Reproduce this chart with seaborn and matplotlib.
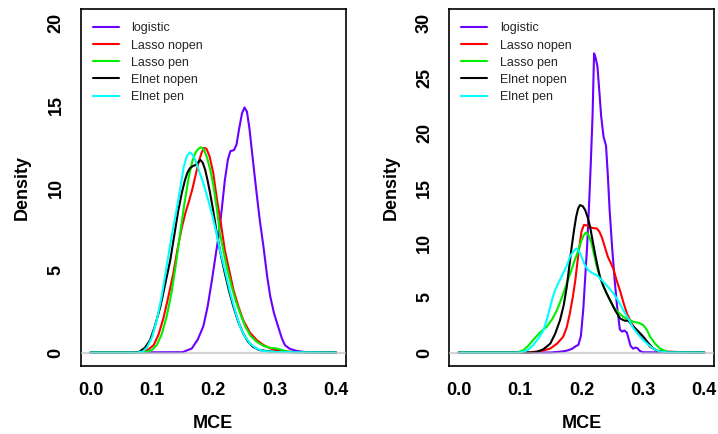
import numpy as np
import pandas as pd
import matplotlib
matplotlib.use("Agg")
import matplotlib.pyplot as plt
import seaborn as sns

# ---------------- data ----------------
methods = ["logistic", "Lasso nopen", "Lasso pen", "Elnet nopen", "Elnet pen"]
colors = ["#6A00FF", "#FF0000", "#00EE00", "#000000", "#00FFFF"]

# Left panel
L_logistic_x = [0.0, 0.150, 0.165, 0.175, 0.184, 0.191, 0.198, 0.204, 0.209, 0.214, 0.219, 0.224, 0.228, 0.234, 0.238, 0.242, 0.247, 0.251, 0.255, 0.259, 0.264, 0.270, 0.276, 0.282, 0.288, 0.293, 0.299, 0.306, 0.312, 0.317, 0.325, 0.336, 0.350, 0.4]
L_logistic_y = [0, 0.02, 0.24, 0.8, 1.6, 2.8, 4.4, 5.9, 7.1, 8.7, 10.45, 11.7, 12.2, 12.27, 12.6, 13.5, 14.5, 14.85, 14.6, 13.6, 11.9, 9.9, 8.0, 6.4, 4.6, 3.4, 2.4, 1.55, 0.85, 0.44, 0.22, 0.1, 0.02, 0]

L_lasso_nopen_x = [0.0, 0.075, 0.086, 0.095, 0.103, 0.111, 0.119, 0.127, 0.135, 0.142, 0.149, 0.155, 0.160, 0.166, 0.171, 0.176, 0.181, 0.185, 0.189, 0.194, 0.200, 0.206, 0.213, 0.219, 0.226, 0.233, 0.241, 0.249, 0.260, 0.271, 0.282, 0.293, 0.305, 0.320, 0.4]
L_lasso_nopen_y = [0, 0.0, 0.05, 0.2, 0.45, 1.1, 2.1, 3.4, 4.8, 6.3, 7.6, 8.5, 9.1, 9.9, 10.7, 11.5, 12.1, 12.4, 12.35, 11.9, 10.9, 9.3, 7.7, 6.2, 5.0, 3.8, 2.8, 1.95, 1.2, 0.75, 0.45, 0.25, 0.12, 0.04, 0]

L_lasso_pen_x = [0.0, 0.080, 0.092, 0.100, 0.108, 0.116, 0.124, 0.132, 0.139, 0.146, 0.153, 0.160, 0.166, 0.171, 0.176, 0.180, 0.185, 0.190, 0.195, 0.200, 0.206, 0.211, 0.217, 0.222, 0.230, 0.237, 0.244, 0.252, 0.261, 0.271, 0.282, 0.293, 0.300, 0.308, 0.318, 0.330, 0.4]
L_lasso_pen_y = [0, 0.0, 0.05, 0.15, 0.45, 1.1, 2.16, 3.6, 5.3, 7.2, 9.0, 10.6, 11.6, 12.1, 12.35, 12.44, 12.3, 11.8, 11.1, 10.2, 8.7, 7.2, 6.1, 5.2, 4.0, 3.1, 2.37, 1.6, 1.0, 0.65, 0.4, 0.28, 0.26, 0.2, 0.08, 0.02, 0]

L_elnet_nopen_x = [0.0, 0.070, 0.080, 0.089, 0.097, 0.105, 0.114, 0.122, 0.130, 0.137, 0.143, 0.149, 0.154, 0.158, 0.162, 0.167, 0.171, 0.175, 0.179, 0.183, 0.187, 0.191, 0.195, 0.200, 0.206, 0.212, 0.219, 0.226, 0.233, 0.241, 0.249, 0.257, 0.265, 0.275, 0.285, 0.300, 0.4]
L_elnet_nopen_y = [0, 0.0, 0.05, 0.3, 0.75, 1.6, 2.8, 4.2, 5.6, 7.2, 8.6, 9.7, 10.45, 10.9, 11.17, 11.3, 11.36, 11.5, 11.67, 11.5, 11.06, 10.4, 9.65, 8.6, 7.2, 6.0, 4.8, 3.7, 2.77, 1.85, 1.15, 0.65, 0.34, 0.15, 0.1, 0.04, 0]

L_elnet_pen_x = [0.0, 0.075, 0.085, 0.092, 0.100, 0.108, 0.116, 0.124, 0.132, 0.141, 0.147, 0.152, 0.157, 0.162, 0.166, 0.171, 0.177, 0.184, 0.191, 0.198, 0.205, 0.211, 0.219, 0.228, 0.236, 0.244, 0.252, 0.260, 0.270, 0.280, 0.300, 0.4]
L_elnet_pen_y = [0, 0.0, 0.05, 0.3, 0.9, 1.96, 3.4, 5.2, 7.0, 8.8, 10.1, 11.26, 11.9, 12.13, 12.0, 11.67, 11.0, 10.25, 9.35, 8.4, 7.3, 6.2, 5.0, 3.58, 2.5, 1.55, 0.95, 0.55, 0.25, 0.1, 0.03, 0]

# Right panel
R_logistic_x = [0.0, 0.150, 0.160, 0.170, 0.178, 0.185, 0.190, 0.195, 0.199, 0.203, 0.206, 0.209, 0.212, 0.215, 0.218, 0.2205, 0.223, 0.226, 0.229, 0.232, 0.236, 0.240, 0.243, 0.246, 0.250, 0.254, 0.258, 0.2625, 0.266, 0.270, 0.274, 0.277, 0.280, 0.284, 0.288, 0.291, 0.295, 0.300, 0.4]
R_logistic_y = [0, 0.0, 0.05, 0.1, 0.2, 0.35, 0.55, 0.7, 1.5, 4.0, 6.8, 9.5, 13.0, 17.0, 21.5, 27.2, 26.8, 26.0, 23.8, 21.5, 19.6, 18.8, 16.0, 12.8, 9.5, 6.6, 4.2, 2.1, 1.9, 2.0, 1.8, 1.2, 0.6, 0.35, 0.45, 0.4, 0.15, 0.02, 0]

R_lasso_nopen_x = [0.0, 0.110, 0.121, 0.135, 0.149, 0.160, 0.170, 0.176, 0.181, 0.186, 0.190, 0.195, 0.200, 0.204, 0.209, 0.214, 0.220, 0.225, 0.229, 0.233, 0.238, 0.243, 0.248, 0.252, 0.257, 0.263, 0.268, 0.274, 0.282, 0.290, 0.300, 0.312, 0.325, 0.340, 0.360, 0.380, 0.4]
R_lasso_nopen_y = [0, 0.0, 0.05, 0.15, 0.36, 0.8, 1.42, 2.3, 3.55, 5.1, 6.6, 9.0, 11.0, 11.6, 11.55, 11.37, 11.3, 11.28, 11.0, 10.5, 9.6, 8.7, 8.1, 7.6, 6.6, 5.6, 4.6, 3.55, 2.6, 2.0, 1.4, 0.5, 0.15, 0.08, 0.04, 0.02, 0]

R_lasso_pen_x = [0.0, 0.095, 0.105, 0.113, 0.121, 0.132, 0.143, 0.152, 0.160, 0.168, 0.176, 0.183, 0.189, 0.195, 0.200, 0.204, 0.208, 0.212, 0.2165, 0.221, 0.225, 0.230, 0.236, 0.244, 0.252, 0.260, 0.268, 0.277, 0.285, 0.293, 0.301, 0.307, 0.312, 0.320, 0.328, 0.340, 0.4]
R_lasso_pen_y = [0, 0.0, 0.2, 0.6, 1.12, 1.8, 2.33, 3.0, 3.85, 5.0, 6.28, 7.4, 8.4, 9.3, 10.2, 10.7, 10.92, 10.6, 9.9, 8.8, 7.8, 6.9, 5.97, 5.0, 4.15, 3.65, 3.24, 3.0, 2.78, 2.7, 2.48, 2.0, 1.42, 0.8, 0.36, 0.05, 0]

R_elnet_nopen_x = [0.0, 0.115, 0.127, 0.138, 0.149, 0.157, 0.165, 0.171, 0.176, 0.180, 0.184, 0.188, 0.1913, 0.1945, 0.1976, 0.202, 0.206, 0.210, 0.214, 0.218, 0.222, 0.226, 0.230, 0.236, 0.241, 0.248, 0.2547, 0.263, 0.270, 0.2765, 0.285, 0.293, 0.301, 0.309, 0.317, 0.325, 0.335, 0.4]
R_elnet_nopen_y = [0, 0.0, 0.05, 0.3, 0.8, 1.7, 2.94, 4.3, 5.97, 7.8, 9.6, 11.2, 12.34, 13.1, 13.4, 13.3, 12.95, 12.3, 11.43, 10.2, 9.0, 7.9, 6.88, 6.0, 5.37, 4.6, 3.85, 3.09, 2.9, 2.88, 2.33, 1.9, 1.42, 0.85, 0.36, 0.12, 0.03, 0]

R_elnet_pen_x = [0.0, 0.095, 0.105, 0.113, 0.121, 0.130, 0.138, 0.144, 0.149, 0.153, 0.157, 0.163, 0.170, 0.176, 0.181, 0.187, 0.1918, 0.196, 0.200, 0.205, 0.211, 0.218, 0.225, 0.231, 0.238, 0.245, 0.252, 0.260, 0.268, 0.277, 0.285, 0.293, 0.301, 0.309, 0.317, 0.327, 0.340, 0.4]
R_elnet_pen_y = [0, 0.0, 0.05, 0.25, 0.66, 1.3, 2.03, 3.1, 4.15, 5.0, 5.67, 6.4, 7.19, 7.9, 8.7, 9.2, 9.46, 9.2, 8.7, 8.0, 7.49, 7.2, 7.03, 6.7, 6.28, 5.85, 5.37, 4.7, 3.85, 3.0, 2.18, 1.6, 1.12, 0.7, 0.36, 0.1, 0.02, 0]

x_ticks = [0.0, 0.1, 0.2, 0.3, 0.4]
x_ticklabels = ["0.0", "0.1", "0.2", "0.3", "0.4"]
left_yticks = [0, 5, 10, 15, 20]
right_yticks = [0, 5, 10, 15, 20, 25, 30]

# ---------------- build long tables ----------------
def long_table(series):
    frames = []
    for name, (xs, ys) in zip(methods, series):
        frames.append(pd.DataFrame({"MCE": xs, "Density": ys, "method": name}))
    return pd.concat(frames, ignore_index=True)

left_df = long_table([(L_logistic_x, L_logistic_y), (L_lasso_nopen_x, L_lasso_nopen_y),
                      (L_lasso_pen_x, L_lasso_pen_y), (L_elnet_nopen_x, L_elnet_nopen_y),
                      (L_elnet_pen_x, L_elnet_pen_y)])
right_df = long_table([(R_logistic_x, R_logistic_y), (R_lasso_nopen_x, R_lasso_nopen_y),
                       (R_lasso_pen_x, R_lasso_pen_y), (R_elnet_nopen_x, R_elnet_nopen_y),
                       (R_elnet_pen_x, R_elnet_pen_y)])

# ---------------- figure ----------------
sns.set_theme(style="white")
plt.rcParams["font.family"] = ["Liberation Sans", "DejaVu Sans"]

W, H = 718, 434
fig = plt.figure(figsize=(W / 100, H / 100), dpi=100)
fig.patch.set_facecolor("white")

def px_axes(x0, x1, y0, y1):
    return fig.add_axes([x0 / W, 1 - y1 / H, (x1 - x0) / W, (y1 - y0) / H])

ax_l = px_axes(80.7, 345.7, 9.3, 365.7)
ax_r = px_axes(449.0, 714.0, 9.3, 365.7)

palette = dict(zip(methods, colors))

for ax, df, yticks, ymax in [(ax_l, left_df, left_yticks, 20), (ax_r, right_df, right_yticks, 30)]:
    ax.set_facecolor("white")
    sns.lineplot(data=df, x="MCE", y="Density", hue="method", hue_order=methods,
                 palette=palette, sort=False, estimator=None, linewidth=1.5, ax=ax)
    ax.axhline(0, color="#BEBEBE", lw=1.6, alpha=0.65, zorder=5)
    ax.set_xlim(-0.016, 0.416)
    ax.set_ylim(-0.04 * ymax, ymax * 1.04)
    ax.set_xticks(x_ticks)
    ax.set_xticklabels(x_ticklabels)
    ax.set_yticks(yticks)
    ax.set_yticklabels([str(v) for v in yticks])
    for s in ax.spines.values():
        s.set_visible(True)
        s.set_color("black")
        s.set_linewidth(1.2)
    ax.tick_params(axis="both", which="major", direction="out", length=5.5, width=1.0,
                   color="black", labelsize=13, labelcolor="black")
    ax.tick_params(axis="x", pad=6)
    ax.tick_params(axis="y", pad=6, labelrotation=90)
    for lbl in ax.get_xticklabels() + ax.get_yticklabels():
        lbl.set_fontweight("bold")
    for lbl in ax.get_yticklabels():
        lbl.set_verticalalignment("center")
    ax.set_xlabel("MCE", fontsize=13, fontweight="bold", labelpad=12, color="black")
    ax.set_ylabel("Density", fontsize=13, fontweight="bold", labelpad=12, color="black")
    handles, labels = ax.get_legend_handles_labels()
    ax.legend(handles, labels, loc="upper left", bbox_to_anchor=(0.045, 0.963),
              frameon=False, fontsize=9, handlelength=2.1, handletextpad=1.0,
              labelspacing=0.41, borderpad=0, borderaxespad=0)

fig.savefig("out.png", dpi=100, facecolor="white")
